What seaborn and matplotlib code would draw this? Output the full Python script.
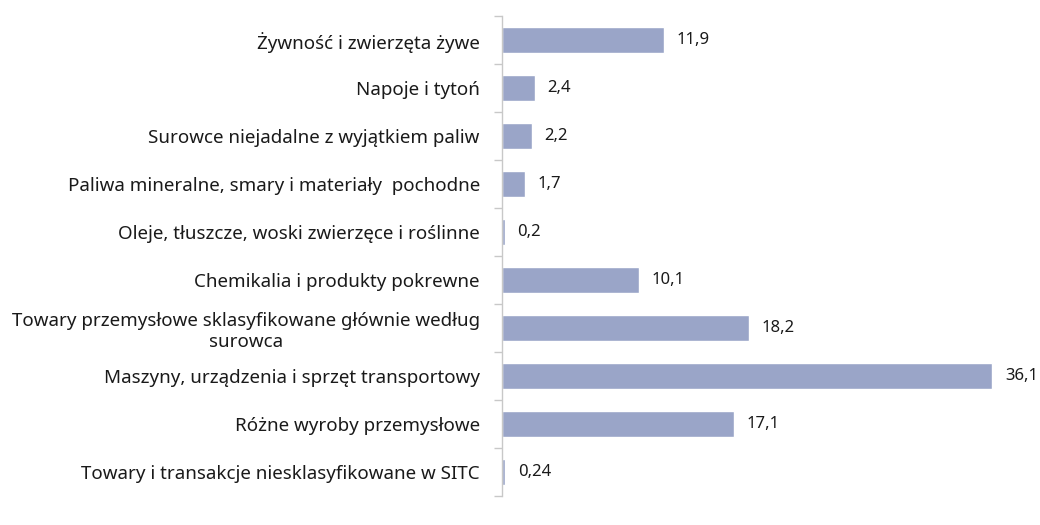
import matplotlib
matplotlib.use('Agg')
import matplotlib.pyplot as plt
import numpy as np
import pandas as pd
import seaborn as sns

categories = [
    'Żywność i zwierzęta żywe',
    'Napoje i tytoń',
    'Surowce niejadalne z wyjątkiem paliw',
    'Paliwa mineralne, smary i materiały  pochodne',
    'Oleje, tłuszcze, woski zwierzęce i roślinne',
    'Chemikalia i produkty pokrewne',
    'Towary przemysłowe sklasyfikowane głównie według\nsurowca',
    'Maszyny, urządzenia i sprzęt transportowy',
    'Różne wyroby przemysłowe',
    'Towary i transakcje niesklasyfikowane w SITC',
]
values = [11.9, 2.4, 2.2, 1.7, 0.2, 10.1, 18.2, 36.1, 17.1, 0.24]
value_labels = ['11,9', '2,4', '2,2', '1,7', '0,2', '10,1', '18,2', '36,1', '17,1', '0,24']

df = pd.DataFrame({'category': categories, 'value': values})

sns.set_style('white')
plt.rcParams['font.family'] = ['Noto Sans', 'DejaVu Sans']

fig = plt.figure(figsize=(10.4, 5.25), dpi=100)
ax = fig.add_axes([0.4827, 0.0552, 0.4963, 0.9143])

sns.barplot(data=df, y='category', x='value', color='#9aa5c8',
            saturation=1, width=0.55, ax=ax)

for i, (v, lab) in enumerate(zip(values, value_labels)):
    ax.annotate(lab, (v, i), xytext=(9, 0), textcoords='offset points',
                va='center', ha='left', fontsize=12, color='#1a1a1a')

ax.set_xlim(0, 38)
ax.set_ylim(len(categories) - 0.5, -0.5)
ax.set_xlabel('')
ax.set_ylabel('')
ax.set_xticks([])
for s in ['top', 'right', 'bottom']:
    ax.spines[s].set_visible(False)
ax.spines['left'].set_color('#c8c8c8')
ax.spines['left'].set_linewidth(1)

ax.set_yticks(np.arange(len(categories)))
ax.set_yticklabels(categories, fontsize=13.5, color='#1a1a1a', linespacing=1.2)
for t in ax.get_yticklabels():
    t.set_multialignment('center')
ax.tick_params(axis='y', which='major', length=0, pad=16)
ax.set_yticks(np.arange(len(categories) + 1) - 0.5, minor=True)
ax.tick_params(axis='y', which='minor', left=True, length=6, color='#c8c8c8', width=1)

fig.savefig('out.png', dpi=100)
